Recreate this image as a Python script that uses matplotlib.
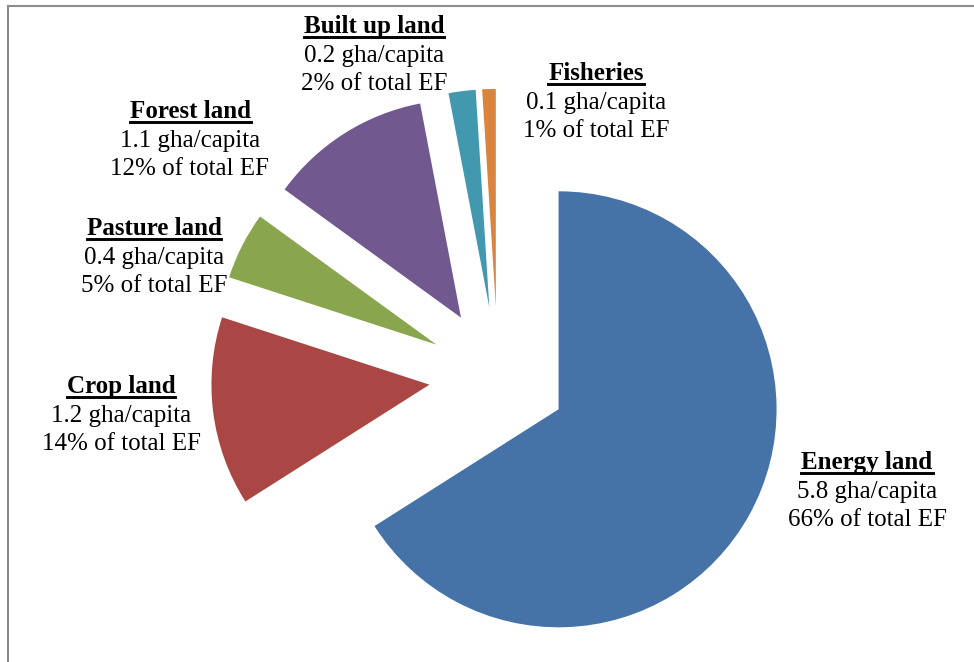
import matplotlib
matplotlib.use("Agg")
import matplotlib.pyplot as plt
from matplotlib.lines import Line2D

plt.rcParams["font.family"] = "serif"
plt.rcParams["font.serif"] = ["Liberation Serif", "Times New Roman", "DejaVu Serif"]

# data
names = ["Energy land", "Crop land", "Pasture land", "Forest land", "Built up land", "Fisheries"]
gha = ["5.8", "1.2", "0.4", "1.1", "0.2", "0.1"]
share = [66, 14, 5, 12, 2, 1]
colors = ["#4572A7", "#AA4643", "#89A54E", "#71588F", "#4198AF", "#DB843D"]

W, H = 974, 662
cx, cy, R = 498, 376, 218  # pie centre and radius in pixels

fig = plt.figure(figsize=(W / 100, H / 100), dpi=100)
ax = fig.add_axes([0, 0, 1, 1])
ax.pie(share, colors=colors, startangle=90, counterclock=False,
       explode=[0.317] * len(share), radius=1,
       wedgeprops=dict(linewidth=0))
ax.set_xlim(-cx / R, (W - cx) / R)
ax.set_ylim(-(H - cy) / R, cy / R)
ax.set_aspect("auto")
ax.axis("off")

# label baseline positions (pixels from top-left)
lab_x = [867, 121, 154, 190, 374, 596]
lab_y = [469, 393, 235, 118, 33, 80]

fam = ["Liberation Serif", "DejaVu Serif"]
titles = []
for n, g, s, x, y in zip(names, gha, share, lab_x, lab_y):
    fx = x / W
    t = fig.text(fx, 1 - y / H, n, ha="center", va="baseline", family=fam,
                 fontsize=18, fontweight="bold", color="black")
    titles.append((t, y))
    fig.text(fx, 1 - (y + 29) / H, f"{g} gha/capita", ha="center", family=fam,
             va="baseline", fontsize=18, color="black")
    fig.text(fx, 1 - (y + 57) / H, f"{s}% of total EF", ha="center", family=fam,
             va="baseline", fontsize=18, color="black")

# underline the bold titles
fig.canvas.draw()
r = fig.canvas.get_renderer()
for t, y in titles:
    bb = t.get_window_extent(r)
    uy = 1 - (y + 3.5) / H
    fig.add_artist(Line2D([bb.x0 / W, bb.x1 / W], [uy, uy],
                          transform=fig.transFigure, color="black", lw=2.1))

# chart border (gray frame)
fig.add_artist(Line2D([8 / W, 1], [1 - 5.5 / H, 1 - 5.5 / H],
                      transform=fig.transFigure, color="#8c8c8c", lw=1.5))
fig.add_artist(Line2D([8 / W, 8 / W], [0, 1 - 5.5 / H],
                      transform=fig.transFigure, color="#8c8c8c", lw=1.5))

fig.savefig("out.png", dpi=100)
